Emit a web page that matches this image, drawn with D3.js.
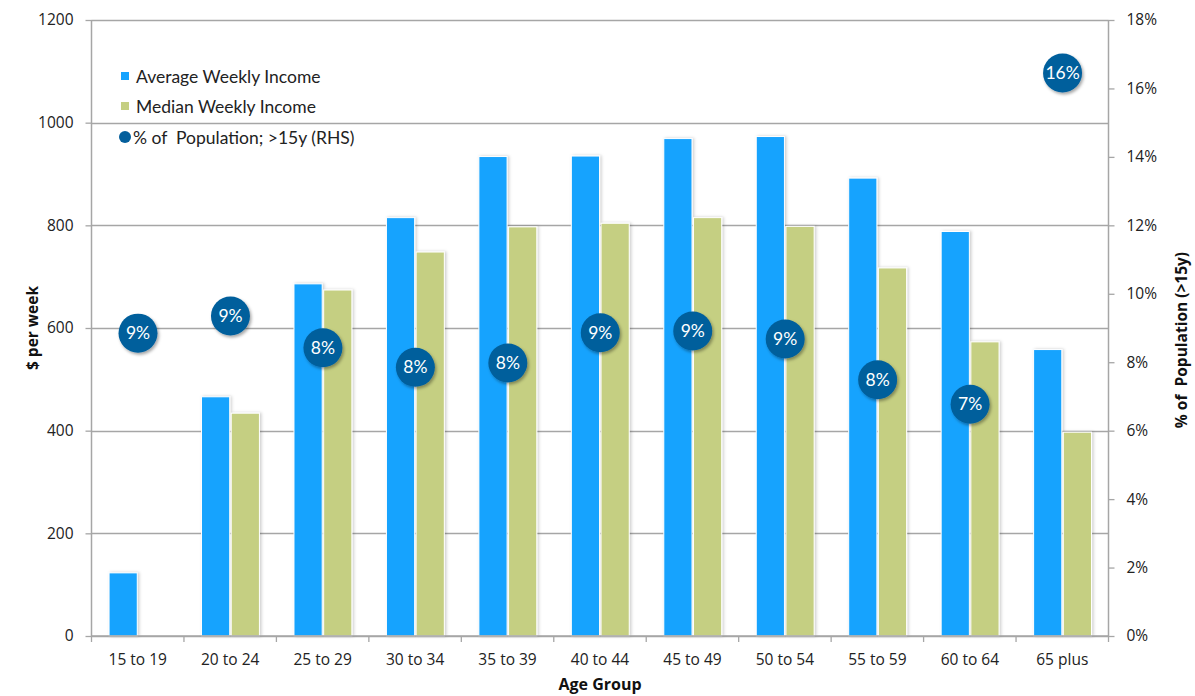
<!DOCTYPE html>
<html><head><meta charset="utf-8">
<script src="https://cdn.jsdelivr.net/npm/d3@7"></script>
<style>body{margin:0;background:#fff}svg{display:block}</style>
</head><body>
<script>
const categories = ["15 to 19","20 to 24","25 to 29","30 to 34","35 to 39","40 to 44","45 to 49","50 to 54","55 to 59","60 to 64","65 plus"];
const averageIncome = [123, 466, 686, 815, 934, 935, 969, 973, 892, 788, 558];
const medianIncome = [null, 434, 674, 748, 797, 804, 815, 798, 717, 573, 397];
const popPct = [8.85, 9.35, 8.42, 7.85, 7.98, 8.86, 8.91, 8.68, 7.49, 6.77, 16.45];
const popLabels = ["9%","9%","8%","8%","8%","9%","9%","9%","8%","7%","16%"];
const leftTicks = [0,200,400,600,800,1000,1200];
const rightTicks = [0,2,4,6,8,10,12,14,16,18];
const seriesNames = ["Average Weekly Income","Median Weekly Income","% of  Population; >15y (RHS)"];

const W = 1195, H = 696;
const m = {left: 91.5, right: 1108.5, top: 20, bottom: 636};
const svg = d3.select("body").append("svg").attr("width", W).attr("height", H);
const defs = svg.append("defs");
const f = defs.append("filter").attr("id","sh").attr("x","-30%").attr("y","-30%").attr("width","160%").attr("height","160%");
f.append("feDropShadow").attr("dx",1.5).attr("dy",2).attr("stdDeviation",1.8).attr("flood-color","#000").attr("flood-opacity",0.35);
const fb = defs.append("filter").attr("id","shb").attr("x","-20%").attr("y","-5%").attr("width","140%").attr("height","110%");
fb.append("feDropShadow").attr("dx",1.5).attr("dy",0).attr("stdDeviation",1.5).attr("flood-color","#000").attr("flood-opacity",0.2);

const x = d3.scaleBand().domain(categories).range([m.left, m.right]).paddingInner(0).paddingOuter(0);
const y = d3.scaleLinear().domain([0,1200]).range([m.bottom, m.top]);
const y2 = d3.scaleLinear().domain([0,18]).range([m.bottom, m.top]);
const bw = x.bandwidth();
const barW = bw * 0.305;
const groupOff = bw * 0.19;
const gray = "#a6a6a6";
const font = "'Open Sans', sans-serif";

// gridlines
svg.append("g").selectAll("line").data(leftTicks).join("line")
  .attr("x1", m.left).attr("x2", m.right)
  .attr("y1", d => Math.round(y(d))+0.5).attr("y2", d => Math.round(y(d))+0.5)
  .attr("stroke", gray).attr("stroke-width", 1.3);

// bars
const bars = svg.append("g");
bars.selectAll("rect.avg").data(categories).join("rect").attr("class","avg")
  .attr("x", (d,i) => x(d) + groupOff)
  .attr("y", (d,i) => y(averageIncome[i]))
  .attr("width", barW)
  .attr("height", (d,i) => y(0) - y(averageIncome[i]))
  .attr("fill", "#15a3fe").attr("stroke","#fff").attr("stroke-width",1)
  .attr("filter","url(#shb)");
bars.selectAll("rect.med").data(categories.filter((d,i)=>medianIncome[i]!=null)).join("rect").attr("class","med")
  .attr("x", d => x(d) + groupOff + barW + 1.5)
  .attr("y", d => y(medianIncome[categories.indexOf(d)]))
  .attr("width", barW)
  .attr("height", d => y(0) - y(medianIncome[categories.indexOf(d)]))
  .attr("fill", "#c5cf82").attr("stroke","#fff").attr("stroke-width",1)
  .attr("filter","url(#shb)");

// axes
const axL = svg.append("g").attr("transform", `translate(${m.left},0)`)
  .call(d3.axisLeft(y).tickValues(leftTicks).tickSize(6).tickPadding(12).tickFormat(d3.format("d")));
const axR = svg.append("g").attr("transform", `translate(${m.right},0)`)
  .call(d3.axisRight(y2).tickValues(rightTicks).tickSize(6).tickPadding(12).tickFormat(d => d + "%"));
const axB = svg.append("g").attr("transform", `translate(0,${m.bottom})`)
  .call(d3.axisBottom(x).tickSize(0).tickPadding(18));
axB.append("g").selectAll("line").data(d3.range(categories.length+1)).join("line")
  .attr("x1", i => m.left + i*bw).attr("x2", i => m.left + i*bw)
  .attr("y1", 0).attr("y2", 6).attr("stroke", gray).attr("stroke-width",1.3);
[axL, axR, axB].forEach(a => {
  a.select(".domain").attr("stroke", gray).attr("stroke-width", 1.5);
  a.selectAll(".tick line").attr("stroke", gray).attr("stroke-width", 1.3);
  a.selectAll("text").attr("font-family", font).attr("font-size", 15.5).attr("fill", "#222");
});
axL.select(".domain").attr("d", `M0,${m.top}V${m.bottom}`);
axR.select(".domain").attr("d", `M0,${m.top}V${m.bottom}`);
axB.select(".domain").attr("d", `M${m.left},0H${m.right}`);

// bubbles
const bub = svg.append("g");
bub.selectAll("circle").data(categories).join("circle")
  .attr("cx", d => x(d) + groupOff + barW + 0.75)
  .attr("cy", (d,i) => y2(popPct[i]))
  .attr("r", 19.5).attr("fill", "#045f9c").attr("filter","url(#sh)");
bub.selectAll("text").data(categories).join("text")
  .attr("x", d => x(d) + groupOff + barW + 0.75)
  .attr("y", (d,i) => y2(popPct[i]) + 6)
  .attr("text-anchor","middle").attr("font-family","Lato, sans-serif").attr("font-size",17.5)
  .attr("fill","#fff").text((d,i) => popLabels[i]);

// axis titles
svg.append("text").attr("transform", `translate(38,${(m.top+m.bottom)/2}) rotate(-90)`)
  .attr("text-anchor","middle").attr("font-family","'Open Sans', sans-serif").attr("font-weight","bold")
  .attr("font-size",15.5).attr("fill","#111").text("$ per week");
svg.append("text").attr("transform", `translate(1187,${(m.top+m.bottom)/2 + 12}) rotate(-90)`)
  .attr("text-anchor","middle").attr("font-family","'Open Sans', sans-serif").attr("font-weight","bold")
  .attr("font-size",15.5).attr("fill","#111").text("% of  Population (>15y)").style("white-space","pre");
svg.append("text").attr("x", 600).attr("y", 690)
  .attr("text-anchor","middle").attr("font-family","'Open Sans', sans-serif").attr("font-weight","bold")
  .attr("font-size",16).attr("fill","#111").text("Age Group");

// legend
const lg = svg.append("g");
const lgY = [77, 107, 138];
lg.append("rect").attr("x",121).attr("y",lgY[0]-5).attr("width",8).attr("height",8).attr("fill","#15a3fe");
lg.append("rect").attr("x",121).attr("y",lgY[1]-5).attr("width",8).attr("height",8).attr("fill","#c5cf82");
lg.append("circle").attr("cx",125).attr("cy",lgY[2]-1).attr("r",6).attr("fill","#045f9c");
lg.selectAll("text").data(seriesNames).join("text")
  .attr("x", (d,i) => i==2 ? 133 : 136).attr("y", (d,i) => lgY[i] + 6)
  .attr("font-family","Lato, sans-serif").attr("font-size",17.5).attr("fill","#222")
  .style("white-space","pre").text(d => d);
</script>
</body></html>
